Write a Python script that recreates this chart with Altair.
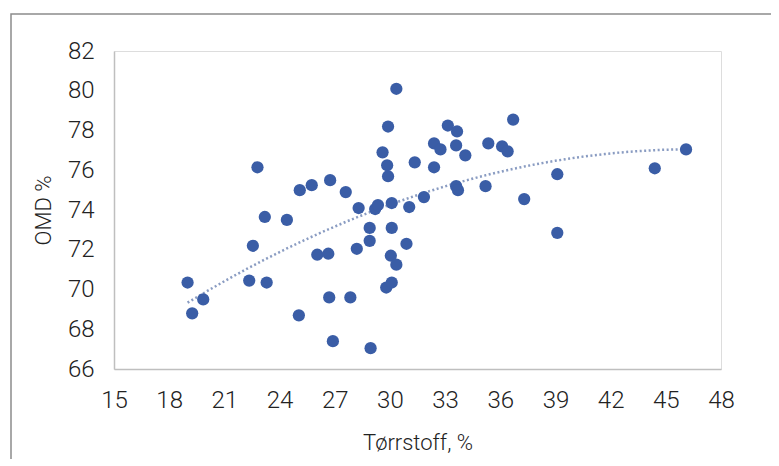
import altair as alt
import pandas as pd

# Dry matter (%) and OMD (%)
dry_matter = [30.35, 29.9, 29.6, 29.85, 29.9, 31.35, 22.8, 25.1, 25.75, 26.75,
              27.6, 28.3, 29.2, 29.35, 30.1, 31.05, 23.2, 24.4, 28.9, 30.1,
              30.9, 22.55, 28.9, 28.2, 26.05, 26.65, 30.05, 30.35, 29.8, 30.1,
              19.0, 22.35, 23.3, 19.85, 19.25, 26.7, 27.85, 25.05, 26.9, 28.95,
              36.7, 33.15, 33.65, 32.4, 32.75, 33.6, 34.1, 35.35, 36.1, 36.4,
              32.4, 46.1, 44.4, 39.1, 33.6, 33.7, 35.2, 31.85, 37.3, 39.1]
omd = [80.1, 78.2, 76.9, 76.25, 75.7, 76.4, 76.15, 75.0, 75.25, 75.5,
       74.9, 74.1, 74.05, 74.25, 74.35, 74.15, 73.65, 73.5, 73.1, 73.1,
       72.3, 72.2, 72.45, 72.05, 71.75, 71.8, 71.7, 71.25, 70.1, 70.35,
       70.35, 70.45, 70.35, 69.5, 68.8, 69.6, 69.6, 68.7, 67.4, 67.05,
       78.55, 78.25, 77.95, 77.35, 77.05, 77.25, 76.75, 77.35, 77.2, 76.95,
       76.15, 77.05, 76.1, 75.8, 75.2, 75.0, 75.2, 74.65, 74.55, 72.85]

x_ticks = [15, 18, 21, 24, 27, 30, 33, 36, 39, 42, 45, 48]
y_ticks = [66, 68, 70, 72, 74, 76, 78, 80, 82]

df = pd.DataFrame({"x": dry_matter, "y": omd})

FONT = "Roboto"

x_enc = alt.X(
    "x:Q",
    scale=alt.Scale(domain=[15, 48], nice=False, zero=False),
    axis=alt.Axis(
        values=x_ticks, title="Tørrstoff, %", grid=False, ticks=False,
        domainColor="#bfbfbf", domainWidth=1.5, labelPadding=19,
        labelOverlap=False, labelFlush=False,
        labelFontSize=24, labelFont=FONT, labelFontWeight=300, labelColor="#222222",
        titleFontSize=22, titleFont=FONT, titleFontWeight=300, titleColor="#222222",
        titlePadding=20,
    ),
)
y_enc = alt.Y(
    "y:Q",
    scale=alt.Scale(domain=[66, 82], nice=False, zero=False),
    axis=alt.Axis(
        values=y_ticks, title="OMD %", grid=False, ticks=False,
        domainColor="#bfbfbf", domainWidth=1.5, labelPadding=20,
        labelOverlap=False, labelFlush=False,
        labelFontSize=24, labelFont=FONT, labelFontWeight=300, labelColor="#222222",
        titleFontSize=22, titleFont=FONT, titleFontWeight=300, titleColor="#222222",
        titlePadding=12,
    ),
)

base = alt.Chart(df)

points = base.mark_circle(size=150, color="#3a5da6", opacity=1).encode(x=x_enc, y=y_enc)

trend = base.transform_regression(
    "x", "y", method="poly", order=2, extent=[19, 46]
).mark_line(strokeDash=[2, 2.5], color="#8a9cc2", strokeWidth=2.5).encode(
    x=x_enc, y=y_enc
)

border = alt.Chart(pd.DataFrame({"k": [0]})).mark_rect(
    fill=None, stroke="#8c8c8c", strokeWidth=1.5, clip=False
).encode(
    x=alt.value(-103), x2=alt.value(700), y=alt.value(-37), y2=alt.value(440)
)

chart = alt.layer(border, trend, points).properties(
    width=607, height=318,
    autosize=alt.AutoSizeParams(type="none"),
    padding={"left": 106, "top": 43, "right": 50, "bottom": 90},
).configure_view(stroke=None).configure(background="white")

chart.save("out.html", embed_options={"renderer": "svg", "actions": False})
